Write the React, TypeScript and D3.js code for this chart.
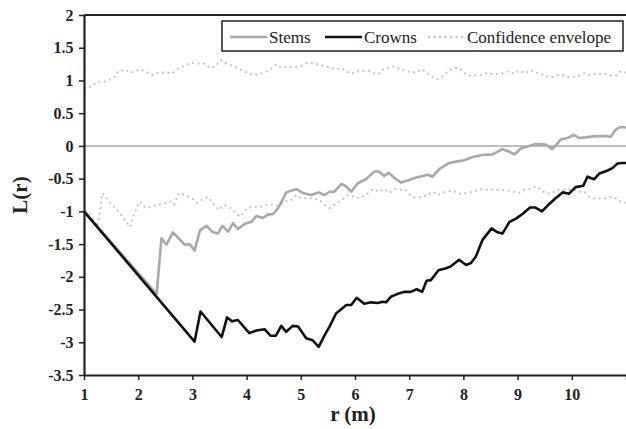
import React, { useEffect, useRef } from 'react';
import * as d3 from 'd3';

// r (m) and L(r) values
const stems: [number, number][] = [
  [1, -1], [2.34, -2.26], [2.43, -1.41], [2.52, -1.51], [2.64, -1.32], [2.86, -1.51], [2.95, -1.5],
  [3.04, -1.6], [3.14, -1.29], [3.26, -1.22], [3.38, -1.32], [3.47, -1.34], [3.55, -1.22], [3.66, -1.31],
  [3.75, -1.18], [3.84, -1.27], [3.97, -1.19], [4.09, -1.16], [4.18, -1.07], [4.3, -1.1], [4.39, -1.05],
  [4.49, -1.04], [4.58, -0.95], [4.66, -0.83], [4.73, -0.71], [4.92, -0.66], [5.04, -0.72], [5.19, -0.75],
  [5.33, -0.71], [5.44, -0.75], [5.53, -0.7], [5.62, -0.7], [5.75, -0.58], [5.84, -0.62], [5.93, -0.7],
  [6.05, -0.57], [6.2, -0.51], [6.36, -0.39], [6.44, -0.39], [6.54, -0.46], [6.62, -0.41], [6.73, -0.49],
  [6.85, -0.56], [6.97, -0.53], [7.1, -0.49], [7.25, -0.46], [7.34, -0.44], [7.43, -0.47], [7.56, -0.35],
  [7.74, -0.26], [7.86, -0.24], [8.02, -0.22], [8.17, -0.17], [8.35, -0.14], [8.54, -0.13], [8.72, -0.05],
  [8.85, -0.09], [8.94, -0.13], [9.06, -0.04], [9.34, 0.03], [9.52, 0.02], [9.64, -0.05], [9.8, 0.1],
  [9.92, 0.12], [10.04, 0.17], [10.13, 0.12], [10.26, 0.13], [10.44, 0.15], [10.63, 0.15], [10.72, 0.14],
  [10.81, 0.25], [10.9, 0.29], [11, 0.28],
];

const crowns: [number, number][] = [
  [1, -1], [3.04, -2.99], [3.15, -2.53], [3.54, -2.92], [3.64, -2.62], [3.73, -2.68], [3.84, -2.66],
  [4.05, -2.86], [4.18, -2.82], [4.33, -2.8], [4.44, -2.9], [4.54, -2.9], [4.64, -2.75], [4.73, -2.84],
  [4.85, -2.75], [4.95, -2.76], [5.1, -2.94], [5.22, -2.97], [5.33, -3.07], [5.44, -2.89], [5.53, -2.76],
  [5.65, -2.56], [5.84, -2.43], [5.93, -2.43], [6.03, -2.32], [6.17, -2.41], [6.3, -2.39], [6.42, -2.4],
  [6.51, -2.38], [6.57, -2.39], [6.67, -2.3], [6.79, -2.26], [6.91, -2.23], [7.03, -2.23], [7.14, -2.19],
  [7.24, -2.23], [7.32, -2.06], [7.4, -2.05], [7.54, -1.9], [7.68, -1.87], [7.77, -1.84], [7.92, -1.74],
  [8.05, -1.82], [8.14, -1.79], [8.23, -1.69], [8.35, -1.44], [8.52, -1.26], [8.63, -1.32], [8.72, -1.34],
  [8.85, -1.16], [8.97, -1.11], [9.09, -1.04], [9.23, -0.94], [9.32, -0.94], [9.45, -1.0], [9.58, -0.89],
  [9.7, -0.8], [9.83, -0.71], [9.95, -0.73], [10.07, -0.63], [10.21, -0.61], [10.29, -0.47], [10.41, -0.51],
  [10.51, -0.42], [10.65, -0.38], [10.75, -0.34], [10.84, -0.27], [10.93, -0.26], [11, -0.26],
];

const envUpper: [number, number][] = [
  [1, 0.87], [1.15, 0.91], [1.24, 0.98], [1.37, 0.98], [1.49, 1.02], [1.58, 1.06], [1.64, 1.15], [1.77, 1.16],
  [1.86, 1.12], [1.95, 1.14], [2.04, 1.17], [2.13, 1.14], [2.26, 1.08], [2.38, 1.12], [2.5, 1.12], [2.63, 1.11],
  [2.75, 1.19], [2.84, 1.22], [2.96, 1.27], [3.09, 1.26], [3.21, 1.26], [3.33, 1.19], [3.42, 1.21], [3.52, 1.31],
  [3.64, 1.25], [3.76, 1.22], [3.88, 1.17], [4.01, 1.12], [4.13, 1.08], [4.24, 1.1], [4.33, 1.12], [4.43, 1.16],
  [4.54, 1.24], [4.64, 1.19], [4.73, 1.21], [4.84, 1.21], [4.95, 1.2], [5.04, 1.24], [5.13, 1.27], [5.22, 1.27],
  [5.33, 1.24], [5.44, 1.22], [5.53, 1.2], [5.64, 1.17], [5.74, 1.19], [5.84, 1.14], [5.93, 1.1], [6.03, 1.14],
  [6.13, 1.14], [6.24, 1.15], [6.33, 1.12], [6.44, 1.1], [6.52, 1.17], [6.64, 1.19], [6.73, 1.22], [6.82, 1.17],
  [6.93, 1.15], [7.03, 1.12], [7.12, 1.12], [7.24, 1.17], [7.34, 1.11], [7.43, 1.05], [7.53, 1.02], [7.63, 1.07],
  [7.73, 1.15], [7.83, 1.19], [7.92, 1.19], [8.02, 1.11], [8.12, 1.07], [8.23, 1.08], [8.32, 1.08], [8.41, 1.11],
  [8.52, 1.1], [8.63, 1.1], [8.72, 1.11], [8.83, 1.14], [8.94, 1.1], [9.03, 1.15], [9.14, 1.11], [9.23, 1.16],
  [9.34, 1.12], [9.43, 1.1], [9.52, 1.06], [9.63, 1.05], [9.73, 1.08], [9.84, 1.08], [9.94, 1.05], [10.04, 1.06],
  [10.13, 1.07], [10.23, 1.11], [10.33, 1.08], [10.44, 1.1], [10.53, 1.1], [10.63, 1.1], [10.72, 1.08],
  [10.81, 1.07], [10.9, 1.14], [11, 1.12],
];

const envLower: [number, number][] = [
  [1, -1], [1.12, -1.05], [1.25, -1.23], [1.34, -0.72], [1.46, -0.85], [1.58, -0.95], [1.71, -1.08],
  [1.85, -1.24], [1.92, -1.05], [2.03, -0.85], [2.14, -0.95], [2.23, -0.93], [2.35, -0.9], [2.47, -0.88],
  [2.6, -0.85], [2.66, -0.9], [2.75, -0.72], [2.87, -0.75], [2.99, -0.8], [3.09, -0.87], [3.21, -0.81],
  [3.3, -0.78], [3.4, -0.9], [3.49, -0.98], [3.58, -0.9], [3.7, -0.95], [3.79, -1.02], [3.88, -1.08],
  [4.01, -0.95], [4.1, -0.93], [4.22, -0.94], [4.36, -0.9], [4.49, -0.9], [4.6, -0.92], [4.7, -0.85],
  [4.82, -0.83], [4.92, -0.75], [5.01, -0.8], [5.13, -0.8], [5.25, -0.8], [5.38, -0.85], [5.47, -0.92],
  [5.53, -0.95], [5.62, -0.9], [5.75, -0.83], [5.87, -0.75], [5.96, -0.77], [6.08, -0.8], [6.2, -0.75],
  [6.33, -0.66], [6.44, -0.7], [6.54, -0.66], [6.64, -0.72], [6.73, -0.66], [6.82, -0.67], [6.94, -0.68],
  [7.03, -0.76], [7.12, -0.8], [7.25, -0.77], [7.34, -0.75], [7.43, -0.7], [7.53, -0.75], [7.68, -0.7],
  [7.8, -0.68], [7.92, -0.73], [8.05, -0.72], [8.17, -0.7], [8.32, -0.66], [8.45, -0.67], [8.57, -0.67],
  [8.69, -0.67], [8.81, -0.68], [8.94, -0.7], [9.03, -0.72], [9.12, -0.67], [9.23, -0.66], [9.34, -0.62],
  [9.43, -0.67], [9.53, -0.73], [9.64, -0.72], [9.73, -0.67], [9.84, -0.67], [9.94, -0.67], [10.04, -0.67],
  [10.13, -0.7], [10.23, -0.7], [10.32, -0.78], [10.43, -0.81], [10.53, -0.8], [10.63, -0.8], [10.72, -0.78],
  [10.81, -0.8], [10.9, -0.85], [11, -0.87],
];

const xTicks = [1, 2, 3, 4, 5, 6, 7, 8, 9, 10, 11];
const yTicks = [-3.5, -3, -2.5, -2, -1.5, -1, -0.5, 0, 0.5, 1, 1.5, 2];
const legendItems = ['Stems', 'Crowns', 'Confidence envelope'];

const W = 626, H = 429;
const margin = { top: 15, right: 0, bottom: 54, left: 84 };
const font = '"Liberation Serif", "DejaVu Serif", serif';

export default function App() {
  const ref = useRef<SVGSVGElement>(null);

  useEffect(() => {
    const svg = d3.select(ref.current);
    svg.selectAll('*').remove();
    const w = W - margin.left - margin.right;
    const h = H - margin.top - margin.bottom;

    const x = d3.scaleLinear().domain([1, 11]).range([0, w]);
    const y = d3.scaleLinear().domain([-3.5, 2]).range([h, 0]);

    const g = svg.append('g').attr('transform', `translate(${margin.left},${margin.top})`);

    // zero reference line
    g.append('line')
      .attr('x1', x(1)).attr('x2', x(11))
      .attr('y1', y(0)).attr('y2', y(0))
      .attr('stroke', '#bdbdbd').attr('stroke-width', 2);

    const line = d3.line<[number, number]>().x(d => x(d[0])).y(d => y(d[1]));

    // confidence envelope
    [envUpper, envLower].forEach(env => {
      g.append('path').datum(env)
        .attr('fill', 'none')
        .attr('stroke', '#c4c4c4')
        .attr('stroke-width', 2)
        .attr('stroke-dasharray', '2,3.5')
        .attr('d', line);
    });

    g.append('path').datum(stems)
      .attr('fill', 'none').attr('stroke', '#a9a9a9').attr('stroke-width', 2.6)
      .attr('stroke-linejoin', 'round')
      .attr('d', line);

    g.append('path').datum(crowns)
      .attr('fill', 'none').attr('stroke', '#111').attr('stroke-width', 2.6)
      .attr('stroke-linejoin', 'round')
      .attr('d', line);

    // axes
    const xAxis = g.append('g')
      .attr('transform', `translate(0,${h})`)
      .call(d3.axisBottom(x).tickValues(xTicks).tickSize(5).tickSizeOuter(0)
        .tickFormat(d => (+d === 11 ? '' : String(d))));
    const yAxis = g.append('g')
      .call(d3.axisLeft(y).tickValues(yTicks).tickSize(5).tickSizeOuter(0)
        .tickFormat(d => String(d)));

    [xAxis, yAxis].forEach(a => {
      a.select('.domain').attr('stroke', '#222').attr('stroke-width', 2.2);
      a.selectAll('.tick line').attr('stroke', '#222').attr('stroke-width', 1.5);
      a.selectAll('.tick text')
        .attr('font-family', font).attr('font-weight', 'bold')
        .attr('font-size', 16).attr('fill', '#222');
    });
    xAxis.selectAll('.tick text').attr('dy', '1.05em');
    yAxis.selectAll('.tick text').attr('dx', '-0.15em');

    // top frame
    g.append('line')
      .attr('x1', 0).attr('x2', w).attr('y1', 0).attr('y2', 0)
      .attr('stroke', '#222').attr('stroke-width', 2.2);

    // axis titles
    svg.append('text')
      .attr('x', margin.left + x(6) - 2).attr('y', 421)
      .attr('text-anchor', 'middle')
      .attr('font-family', font).attr('font-weight', 'bold').attr('font-size', 21)
      .attr('fill', '#222')
      .text('r (m)');
    svg.append('text')
      .attr('transform', `translate(27,${margin.top + y(-0.75)}) rotate(-90)`)
      .attr('text-anchor', 'middle')
      .attr('font-family', font).attr('font-weight', 'bold').attr('font-size', 21)
      .attr('fill', '#222')
      .text('L(r)');

    // legend
    const lg = svg.append('g');
    lg.append('rect')
      .attr('x', 222).attr('y', 21).attr('width', 401).attr('height', 30)
      .attr('fill', '#fff').attr('stroke', '#222').attr('stroke-width', 1.5);
    const starts = [230, 325, 428];
    const styles = [
      { stroke: '#a9a9a9', dash: null },
      { stroke: '#111', dash: null },
      { stroke: '#c4c4c4', dash: '2,3.5' },
    ];
    legendItems.forEach((label, i) => {
      lg.append('line')
        .attr('x1', starts[i]).attr('x2', starts[i] + 37)
        .attr('y1', 37).attr('y2', 37)
        .attr('stroke', styles[i].stroke).attr('stroke-width', 2.4)
        .attr('stroke-dasharray', styles[i].dash);
      lg.append('text')
        .attr('x', starts[i] + 39).attr('y', 43)
        .attr('font-family', font).attr('font-size', 17)
        .attr('fill', '#222')
        .text(label);
    });
  }, []);

  return (
    <svg ref={ref} width={W} height={H}
      style={{ position: 'absolute', left: 0, top: 0, background: '#fff' }} />
  );
}
